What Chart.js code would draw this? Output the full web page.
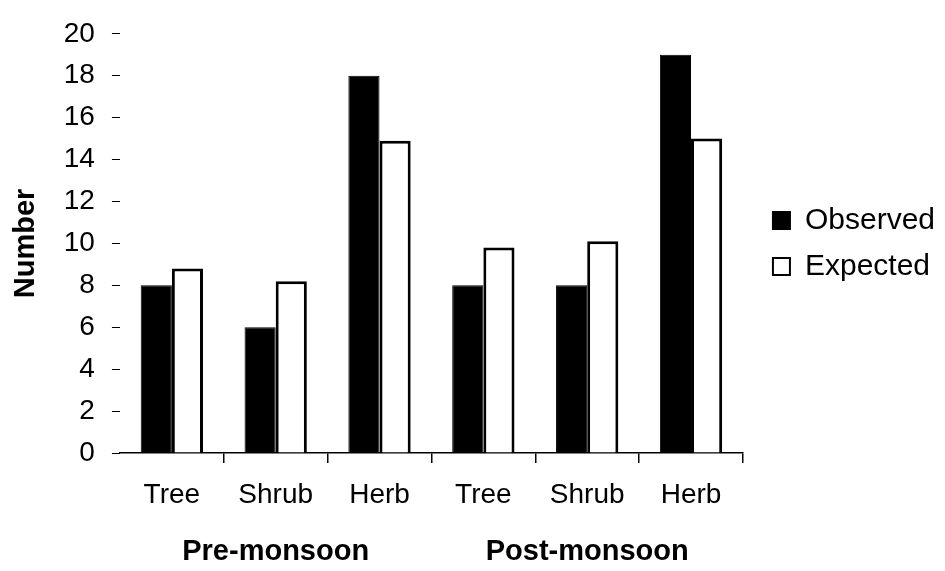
<!DOCTYPE html>
<html>
<head>
<meta charset="utf-8">
<script src="https://cdn.jsdelivr.net/npm/chart.js@4/dist/chart.umd.min.js"></script>
<style>
  body { margin: 0; background: #fff; }
  #wrap { width: 945px; height: 571px; }
</style>
</head>
<body>
<div id="wrap"><canvas id="chart" width="945" height="571"></canvas></div>
<script>
// Dados do gráfico
const categorias = ["Tree", "Shrub", "Herb", "Tree", "Shrub", "Herb"];
const estacoes = ["Pre-monsoon", "Post-monsoon"];
const observado = [8, 6, 18, 8, 8, 19];
const esperado = [8.8, 8.2, 14.9, 9.8, 10.1, 15.0];
const yMin = 0;
const yMax = 20;
const yPasso = 2;

const fonte = "'Liberation Sans', Arial, sans-serif";

const ctx = document.getElementById("chart");

new Chart(ctx, {
  type: "bar",
  data: {
    labels: categorias,
    datasets: [
      {
        label: "Observed",
        data: observado,
        backgroundColor: "#000",
        borderColor: "#000",
        borderWidth: 1,
        categoryPercentage: 0.6,
        barPercentage: 1.0
      },
      {
        label: "Expected",
        data: esperado,
        backgroundColor: "#fff",
        borderColor: "#000",
        borderWidth: 3,
        categoryPercentage: 0.6,
        barPercentage: 1.0
      }
    ]
  },
  options: {
    responsive: false,
    animation: false,
    layout: { padding: { top: 19, left: 9, right: 0, bottom: 1 } },
    plugins: {
      tooltip: { enabled: false },
      legend: {
        position: "right",
        fullSize: false,
        labels: {
          color: "#000",
          font: { family: fonte, size: 30 },
          boxWidth: 17,
          boxHeight: 17,
          padding: 16,
          generateLabels: (chart) => chart.data.datasets.map((ds, i) => ({
            text: ds.label,
            fillStyle: ds.backgroundColor,
            strokeStyle: "#000",
            lineWidth: 2,
            datasetIndex: i,
            fontColor: "#000"
          }))
        }
      }
    },
    scales: {
      x: {
        offset: true,
        grid: {
          offset: true,
          drawOnChartArea: false,
          drawTicks: true,
          tickLength: 10,
          color: (c) => (c.index === 0 ? "rgba(0,0,0,0)" : "#000"),
          lineWidth: 1.5
        },
        border: { display: true, color: "#000", width: 1.5 },
        ticks: {
          color: "#000",
          font: { family: fonte, size: 28 },
          padding: 15,
          maxRotation: 0
        },
        afterFit: (scale) => { scale.height = 59; }
      },
      estacao: {
        type: "category",
        position: "bottom",
        labels: estacoes,
        offset: true,
        grid: { display: false, drawTicks: false },
        border: { display: false },
        ticks: {
          color: "#000",
          font: { family: fonte, size: 29, weight: "bold" },
          padding: 23,
          maxRotation: 0
        },
        afterFit: (scale) => { scale.height = 58; }
      },
      y: {
        min: yMin,
        max: yMax,
        ticks: {
          stepSize: yPasso,
          color: "#000",
          font: { family: fonte, size: 28 },
          padding: 17
        },
        grid: {
          drawOnChartArea: false,
          drawTicks: true,
          tickLength: 8,
          color: "#000",
          lineWidth: 1
        },
        border: { display: false },
        title: {
          display: true,
          text: "Number",
          color: "#000",
          font: { family: fonte, size: 29, weight: "bold" },
          padding: { top: 0, bottom: 3 }
        }
      },
      // espaço vazio entre o gráfico e a legenda
      espaco: {
        type: "linear",
        position: "right",
        display: false,
        afterFit: (scale) => { scale.width = 14; }
      }
    }
  }
});
</script>
</body>
</html>
